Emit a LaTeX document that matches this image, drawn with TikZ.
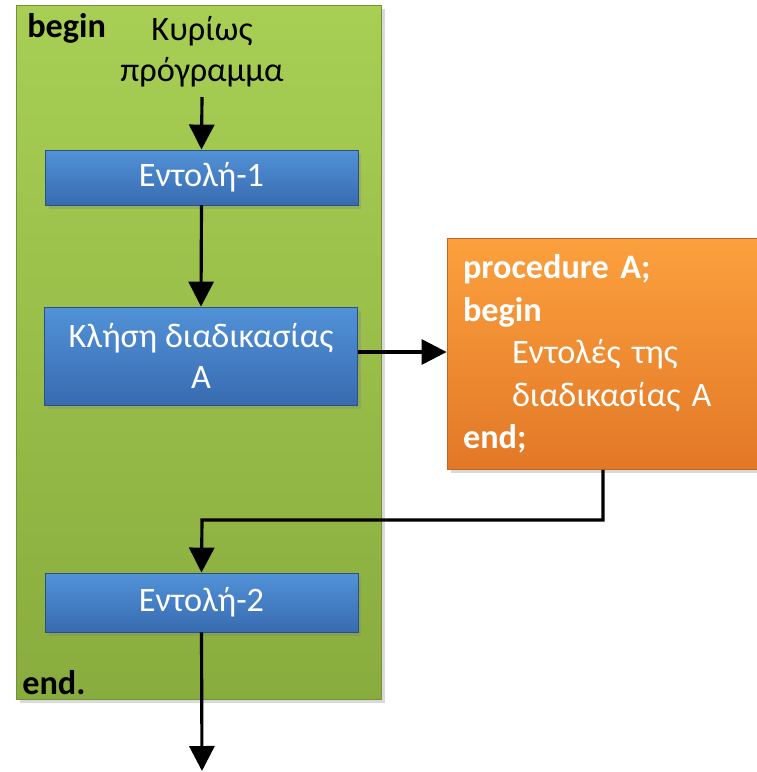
\documentclass[tikz,border=0pt]{standalone}
\usepackage{fontspec}
\setmainfont{Carlito}
\usetikzlibrary{arrows.meta,shadows}
\definecolor{progtop}{RGB}{168,207,84}
\definecolor{progbot}{RGB}{137,172,62}
\definecolor{cmdtop}{RGB}{82,146,216}
\definecolor{cmdbot}{RGB}{56,107,176}
\definecolor{proctop}{RGB}{252,160,62}
\definecolor{procbot}{RGB}{226,120,38}
\begin{document}
\begin{tikzpicture}[x=0.02cm,y=-0.02cm,
    font=\fontsize{19.5}{23.5}\selectfont,
    softshadow/.style={drop shadow={opacity=0.3,shadow xshift=2pt,shadow yshift=-2pt}},
    progbox/.style={rectangle,draw=progbot!85!black,line width=0.6pt,top color=progtop,bottom color=progbot,
      minimum width=7.32cm,minimum height=13.9cm,softshadow},
    cmdbox/.style={rectangle,draw=cmdbot!75!black,line width=0.5pt,top color=cmdtop,bottom color=cmdbot,
      text=white,minimum width=6.26cm,align=center,inner sep=0pt,softshadow},
    procbox/.style={rectangle,draw=procbot!85!black,line width=0.5pt,top color=proctop,bottom color=procbot,
      text=white,minimum width=6.24cm,minimum height=4.6cm,inner sep=0.32cm,text width=5.6cm,align=left,
      font=\fontsize{19.5}{24.2}\selectfont,softshadow},
    arr/.style={line width=1.8pt,-{Triangle[length=0.5cm,width=0.5cm]}}]
  \useasboundingbox (0,0) rectangle (757,772);

  % main program
  \node[progbox] (prog) at (199,352.5) {};
  \node[anchor=base west,inner sep=0pt] (beg) at (27,37) {\textbf{begin}};
  \node[anchor=base west,inner sep=0pt] (fin) at (22,694) {\textbf{end.}};
  \node[anchor=north,align=center,inner sep=0pt] (title) at (202,16) {Κυρίως\\πρόγραμμα};

  \node[cmdbox,minimum height=1.1cm] (ent1) at (201.5,177.5) {Εντολή-1};
  \node[cmdbox,minimum height=1.96cm] (call) at (201,356) {Κλήση διαδικασίας\\A};
  \node[cmdbox,minimum height=1.18cm] (ent2) at (201.5,602.5) {Εντολή-2};

  % procedure
  \node[procbox] (proc) at (603,354) {\textbf{procedure A;}\\
    \textbf{begin}\\
    \hspace*{0.98cm}Εντολές της\\
    \hspace*{0.98cm}διαδικασίας A\\
    \textbf{end;}};

  \coordinate (start) at (202,97);
  \coordinate (bend) at (202,520);
  \coordinate (exit) at (202,771);

  \draw[arr] (start) -- (ent1.north);
  \draw[arr] (ent1.south) -- (call.north);
  \draw[arr] (call.east |- 0,352) -- (proc.west |- 0,352);
  \draw[arr] (proc.south) |- (bend) -- (ent2.north);
  \draw[arr] (ent2.south) -- (exit);
\end{tikzpicture}
\end{document}
